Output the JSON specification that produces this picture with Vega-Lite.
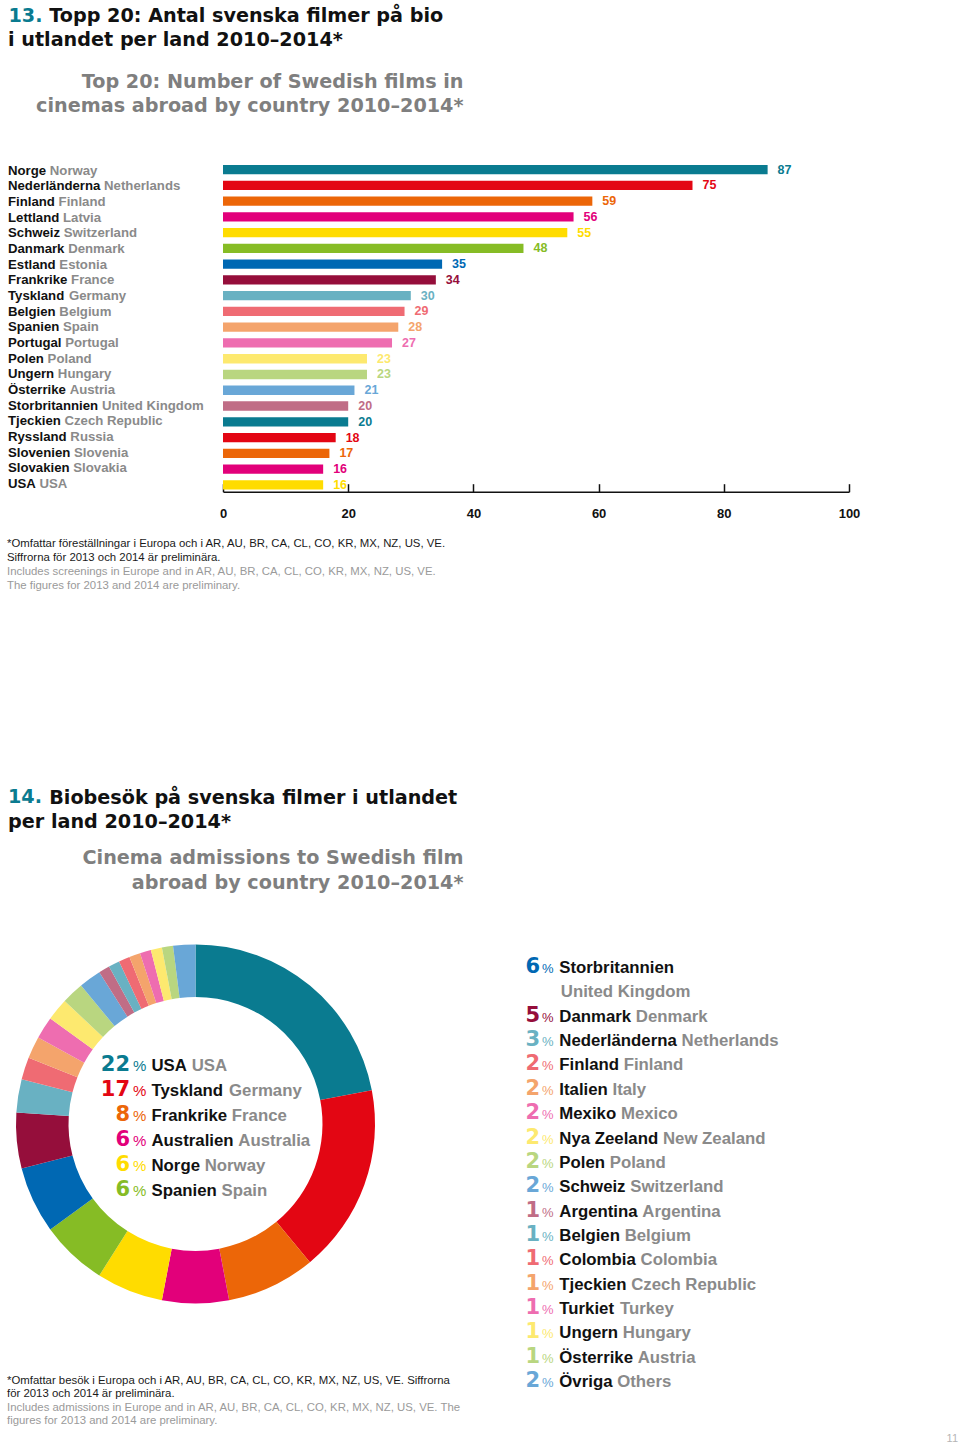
{
  "$schema": "https://vega.github.io/schema/vega-lite/v6.json",
  "usermeta": {"embedOptions": {"actions": false}},
  "background": "white",
  "padding": {"left": 7, "top": 5.7, "right": 2, "bottom": 0},
  "config": {"view": {"stroke": null}, "font": "Liberation Sans", "axis": {"grid": false}},
  "resolve": {"scale": {"color": "independent"}},
  "spacing": 195.7,
  "title": {
    "text": "11", "orient": "bottom", "anchor": "end", "frame": "bounds", "baseline": "top", "offset": 6.5,
    "font": "Liberation Sans", "fontSize": 11, "fontWeight": "normal", "color": "#b5b5b5"
  },
  "datasets": {
    "films": [
      {"rank": 1, "sv": "Norge", "en": "Norway", "films": 87},
      {"rank": 2, "sv": "Nederländerna", "en": "Netherlands", "films": 75},
      {"rank": 3, "sv": "Finland", "en": "Finland", "films": 59},
      {"rank": 4, "sv": "Lettland", "en": "Latvia", "films": 56},
      {"rank": 5, "sv": "Schweiz", "en": "Switzerland", "films": 55},
      {"rank": 6, "sv": "Danmark", "en": "Denmark", "films": 48},
      {"rank": 7, "sv": "Estland", "en": "Estonia", "films": 35},
      {"rank": 8, "sv": "Frankrike", "en": "France", "films": 34},
      {"rank": 9, "sv": "Tyskland", "en": "Germany", "films": 30},
      {"rank": 10, "sv": "Belgien", "en": "Belgium", "films": 29},
      {"rank": 11, "sv": "Spanien", "en": "Spain", "films": 28},
      {"rank": 12, "sv": "Portugal", "en": "Portugal", "films": 27},
      {"rank": 13, "sv": "Polen", "en": "Poland", "films": 23},
      {"rank": 14, "sv": "Ungern", "en": "Hungary", "films": 23},
      {"rank": 15, "sv": "Österrike", "en": "Austria", "films": 21},
      {"rank": 16, "sv": "Storbritannien", "en": "United Kingdom", "films": 20},
      {"rank": 17, "sv": "Tjeckien", "en": "Czech Republic", "films": 20},
      {"rank": 18, "sv": "Ryssland", "en": "Russia", "films": 18},
      {"rank": 19, "sv": "Slovenien", "en": "Slovenia", "films": 17},
      {"rank": 20, "sv": "Slovakien", "en": "Slovakia", "films": 16},
      {"rank": 21, "sv": "USA", "en": "USA", "films": 16}
    ],
    "admissions": [
      {"rank": 1, "sv": "USA", "en": "USA", "pct": 22},
      {"rank": 2, "sv": "Tyskland", "en": "Germany", "pct": 17},
      {"rank": 3, "sv": "Frankrike", "en": "France", "pct": 8},
      {"rank": 4, "sv": "Australien", "en": "Australia", "pct": 6},
      {"rank": 5, "sv": "Norge", "en": "Norway", "pct": 6},
      {"rank": 6, "sv": "Spanien", "en": "Spain", "pct": 6},
      {"rank": 7, "sv": "Storbritannien", "en": "United Kingdom", "pct": 6},
      {"rank": 8, "sv": "Danmark", "en": "Denmark", "pct": 5},
      {"rank": 9, "sv": "Nederländerna", "en": "Netherlands", "pct": 3},
      {"rank": 10, "sv": "Finland", "en": "Finland", "pct": 2},
      {"rank": 11, "sv": "Italien", "en": "Italy", "pct": 2},
      {"rank": 12, "sv": "Mexiko", "en": "Mexico", "pct": 2},
      {"rank": 13, "sv": "Nya Zeeland", "en": "New Zealand", "pct": 2},
      {"rank": 14, "sv": "Polen", "en": "Poland", "pct": 2},
      {"rank": 15, "sv": "Schweiz", "en": "Switzerland", "pct": 2},
      {"rank": 16, "sv": "Argentina", "en": "Argentina", "pct": 1},
      {"rank": 17, "sv": "Belgien", "en": "Belgium", "pct": 1},
      {"rank": 18, "sv": "Colombia", "en": "Colombia", "pct": 1},
      {"rank": 19, "sv": "Tjeckien", "en": "Czech Republic", "pct": 1},
      {"rank": 20, "sv": "Turkiet", "en": "Turkey", "pct": 1},
      {"rank": 21, "sv": "Ungern", "en": "Hungary", "pct": 1},
      {"rank": 22, "sv": "Österrike", "en": "Austria", "pct": 1},
      {"rank": 23, "sv": "Övriga", "en": "Others", "pct": 2}
    ]
  },
  "vconcat": [
    {
      "bounds": "flush",
      "spacing": 0,
      "hconcat": [
        {
          "width": 215,
          "height": 329,
          "data": {"name": "films"},
          "title": {
            "text": "i utlandet per land 2010–2014*",
            "orient": "top", "anchor": "start", "frame": "group", "align": "left", "baseline": "top", "offset": -44.2,
            "font": "DejaVu Sans", "fontSize": 19.2, "fontWeight": "bold", "color": "#111111"
          },
          "encoding": {
            "y": {
              "field": "en", "type": "nominal", "sort": null,
              "scale": {"paddingInner": 0.41, "paddingOuter": 0.14},
              "axis": {
                "title": "Topp 20: Antal svenska filmer på bio",
                "labels": false, "ticks": false, "domain": false,
                "titleAngle": 0, "titleX": 40.7, "titleY": -156.3, "titleAlign": "left", "titleBaseline": "top",
                "titleFont": "DejaVu Sans", "titleFontSize": 19.2, "titleFontWeight": "bold", "titleColor": "#111111"
              }
            }
          },
          "layer": [
            {
              "mark": {"type": "text", "align": "left", "baseline": "middle", "font": "Liberation Sans", "fontSize": 13.2, "fontWeight": "bold", "color": "#111111"},
              "encoding": {"x": {"value": 0}, "text": {"field": "sv", "type": "nominal"}}
            },
            {
              "mark": {
                "type": "text", "align": "left", "baseline": "middle", "font": "Liberation Sans", "fontSize": 13.2, "fontWeight": "bold", "color": "#8a8a8a",
                "dx": {"expr": "(278*(length(datum.sv)-length(replace(datum.sv,regexp('[ijlI ,.]','g'),'')))+333*(length(datum.sv)-length(replace(datum.sv,regexp('[ft]','g'),'')))+389*(length(datum.sv)-length(replace(datum.sv,regexp('r','g'),'')))+500*(length(datum.sv)-length(replace(datum.sv,regexp('z','g'),'')))+556*(length(datum.sv)-length(replace(datum.sv,regexp('[aceksvxyäåJ]','g'),'')))+611*(length(datum.sv)-length(replace(datum.sv,regexp('[bdghnopquöFLTZ]','g'),'')))+667*(length(datum.sv)-length(replace(datum.sv,regexp('[EPSVXY]','g'),'')))+722*(length(datum.sv)-length(replace(datum.sv,regexp('[ABCDHKNRU]','g'),'')))+778*(length(datum.sv)-length(replace(datum.sv,regexp('[GOQwÖ]','g'),'')))+833*(length(datum.sv)-length(replace(datum.sv,regexp('M','g'),'')))+889*(length(datum.sv)-length(replace(datum.sv,regexp('m','g'),'')))+944*(length(datum.sv)-length(replace(datum.sv,regexp('W','g'),'')))+278)*0.0132"}
              },
              "encoding": {"x": {"value": 0}, "text": {"field": "en", "type": "nominal"}}
            }
          ]
        },
        {
          "width": 626,
          "height": 329,
          "data": {"name": "films"},
          "title": {
            "text": ["*Omfattar föreställningar i Europa och i AR, AU, BR, CA, CL, CO, KR, MX, NZ, US, VE.", "Siffrorna för 2013 och 2014 är preliminära."],
            "subtitle": ["Includes screenings in Europe and in AR, AU, BR, CA, CL, CO, KR, MX, NZ, US, VE.", "The figures for 2013 and 2014 are preliminary."],
            "orient": "bottom", "anchor": "start", "frame": "group", "align": "left", "baseline": "top",
            "dx": -216, "offset": 17,
            "font": "Liberation Sans", "fontSize": 11.4, "fontWeight": "normal", "color": "#1a1a1a", "lineHeight": 14,
            "subtitleFont": "Liberation Sans", "subtitleFontSize": 11.4, "subtitleFontWeight": "normal", "subtitleColor": "#9a9a9a", "subtitleLineHeight": 14, "subtitlePadding": 3
          },
          "encoding": {
            "y": {
              "field": "en", "type": "nominal", "sort": null,
              "scale": {"paddingInner": 0.41, "paddingOuter": 0.14},
              "axis": {
                "title": "13.",
                "labels": false, "ticks": false, "domain": false,
                "titleAngle": 0, "titleX": -215, "titleY": -156.3, "titleAlign": "left", "titleBaseline": "top",
                "titleFont": "DejaVu Sans", "titleFontSize": 19.2, "titleFontWeight": "bold", "titleColor": "#0a7b90"
              }
            }
          },
          "layer": [
            {
              "mark": {"type": "bar"},
              "encoding": {
                "x": {
                  "field": "films", "type": "quantitative",
                  "scale": {"domain": [0, 100]},
                  "axis": {
                    "values": [0, 20, 40, 60, 80, 100],
                    "tickSize": -8, "tickColor": "#111111", "tickWidth": 1.5,
                    "domainColor": "#111111", "domainWidth": 1.6,
                    "labelFont": "Liberation Sans", "labelFontSize": 13, "labelFontWeight": "bold", "labelColor": "#111111",
                    "labelPadding": 24, "labelFlush": false,
                    "title": ["Top 20: Number of Swedish films in", "cinemas abroad by country 2010–2014*"],
                    "titleX": 240, "titleY": -419.5, "titleAlign": "right", "titleBaseline": "top", "titleAngle": 0,
                    "titleFont": "DejaVu Sans", "titleFontSize": 19.2, "titleFontWeight": "bold", "titleColor": "#7f7f7f", "titleLineHeight": 24.5
                  }
                },
                "color": {
                  "field": "rank", "type": "ordinal", "legend": null,
                  "scale": {"range": ["#0a7b90", "#e30613", "#ec6608", "#e2007a", "#ffdc00", "#86bc25", "#0068b3", "#950e3b", "#69b1c2", "#ef6b73", "#f4a46c", "#ee6db0", "#fde96f", "#b9d680", "#69a7d7", "#c06d86"]}
                }
              }
            },
            {
              "mark": {"type": "text", "align": "left", "baseline": "middle", "dx": 10, "font": "Liberation Sans", "fontSize": 12.5, "fontWeight": "bold"},
              "encoding": {
                "x": {"field": "films", "type": "quantitative"},
                "text": {"field": "films", "type": "quantitative"},
                "color": {
                  "field": "rank", "type": "ordinal", "legend": null,
                  "scale": {"range": ["#0a7b90", "#e30613", "#ec6608", "#e2007a", "#ffdc00", "#86bc25", "#0068b3", "#950e3b", "#69b1c2", "#ef6b73", "#f4a46c", "#ee6db0", "#fde96f", "#b9d680", "#69a7d7", "#c06d86"]}
                }
              }
            }
          ]
        }
      ]
    },
    {
      "bounds": "flush",
      "spacing": 0,
      "title": {
        "text": "per land 2010–2014*",
        "orient": "top", "anchor": "start", "frame": "bounds", "align": "left", "baseline": "top", "offset": -44.2, "dx": 1,
        "font": "DejaVu Sans", "fontSize": 19.2, "fontWeight": "bold", "color": "#111111"
      },
      "hconcat": [
        {
          "width": 375,
          "height": 375,
          "data": {"name": "admissions"},
          "title": {
            "text": ["*Omfattar besök i Europa och i AR, AU, BR, CA, CL, CO, KR, MX, NZ, US, VE. Siffrorna", "för 2013 och 2014 är preliminära."],
            "subtitle": ["Includes admissions in Europe and in AR, AU, BR, CA, CL, CO, KR, MX, NZ, US, VE. The", "figures for 2013 and 2014 are preliminary."],
            "orient": "bottom", "anchor": "start", "frame": "group", "align": "left", "baseline": "top",
            "dx": -1, "offset": 63.3,
            "font": "Liberation Sans", "fontSize": 11.4, "fontWeight": "normal", "color": "#1a1a1a", "lineHeight": 13.7,
            "subtitleFont": "Liberation Sans", "subtitleFontSize": 11.4, "subtitleFontWeight": "normal", "subtitleColor": "#9a9a9a", "subtitleLineHeight": 13.7, "subtitlePadding": 2
          },
          "layer": [
            {
              "mark": {"type": "arc", "innerRadius": 127, "outerRadius": 179.5},
              "encoding": {
                "theta": {"field": "pct", "type": "quantitative", "stack": true},
                "order": {"field": "rank", "type": "quantitative"},
                "color": {
                  "field": "rank", "type": "ordinal", "legend": null,
                  "scale": {"domain": [1,2,3,4,5,6,7,8,9,10,11,12,13,14,15,16,17,18,19,20,21,22,23], "range": ["#0a7b90", "#e30613", "#ec6608", "#e2007a", "#ffdc00", "#86bc25", "#0068b3", "#950e3b", "#69b1c2", "#ef6b73", "#f4a46c", "#ee6db0", "#fde96f", "#b9d680", "#69a7d7", "#c06d86", "#69b1c2", "#ef6b73", "#f4a46c", "#ee6db0", "#fde96f", "#b9d680", "#69a7d7"]}
                }
              }
            },
            {
              "transform": [{"filter": "datum.rank <= 6"}],
              "encoding": {
                "y": {
                  "field": "rank", "type": "quantitative",
                  "scale": {"domain": [-4.43, 10.655], "reverse": true, "nice": false, "zero": false},
                  "axis": {
                    "title": "Biobesök på svenska filmer i utlandet",
                    "labels": false, "ticks": false, "domain": false, "grid": false,
                    "titleAngle": 0, "titleX": 40.7, "titleY": -148.3, "titleAlign": "left", "titleBaseline": "top",
                    "titleFont": "DejaVu Sans", "titleFontSize": 19.2, "titleFontWeight": "bold", "titleColor": "#111111"
                  }
                }
              },
              "layer": [
                {
                  "mark": {"type": "text", "align": "right", "baseline": "alphabetic", "font": "DejaVu Sans", "fontSize": 21, "fontWeight": "bold"},
                  "encoding": {
                    "x": {"value": 122},
                    "text": {"field": "pct", "type": "quantitative"},
                    "color": {
                      "field": "rank", "type": "ordinal", "legend": null,
                      "scale": {"domain": [1,2,3,4,5,6,7,8,9,10,11,12,13,14,15,16,17,18,19,20,21,22,23], "range": ["#0a7b90", "#e30613", "#ec6608", "#e2007a", "#ffdc00", "#86bc25", "#0068b3", "#950e3b", "#69b1c2", "#ef6b73", "#f4a46c", "#ee6db0", "#fde96f", "#b9d680", "#69a7d7", "#c06d86", "#69b1c2", "#ef6b73", "#f4a46c", "#ee6db0", "#fde96f", "#b9d680", "#69a7d7"]}
                    }
                  }
                },
                {
                  "mark": {"type": "text", "align": "left", "baseline": "alphabetic", "font": "Liberation Sans", "fontSize": 15, "text": "%"},
                  "encoding": {
                    "x": {"value": 125},
                    "color": {
                      "field": "rank", "type": "ordinal", "legend": null,
                      "scale": {"domain": [1,2,3,4,5,6,7,8,9,10,11,12,13,14,15,16,17,18,19,20,21,22,23], "range": ["#0a7b90", "#e30613", "#ec6608", "#e2007a", "#ffdc00", "#86bc25", "#0068b3", "#950e3b", "#69b1c2", "#ef6b73", "#f4a46c", "#ee6db0", "#fde96f", "#b9d680", "#69a7d7", "#c06d86", "#69b1c2", "#ef6b73", "#f4a46c", "#ee6db0", "#fde96f", "#b9d680", "#69a7d7"]}
                    }
                  }
                },
                {
                  "mark": {"type": "text", "align": "left", "baseline": "alphabetic", "font": "Liberation Sans", "fontSize": 16.8, "fontWeight": "bold", "color": "#111111"},
                  "encoding": {"x": {"value": 143.5}, "text": {"field": "sv", "type": "nominal"}}
                },
                {
                  "mark": {
                    "type": "text", "align": "left", "baseline": "alphabetic", "font": "Liberation Sans", "fontSize": 16.8, "fontWeight": "bold", "color": "#8a8a8a",
                    "dx": {"expr": "(278*(length(datum.sv)-length(replace(datum.sv,regexp('[ijlI ,.]','g'),'')))+333*(length(datum.sv)-length(replace(datum.sv,regexp('[ft]','g'),'')))+389*(length(datum.sv)-length(replace(datum.sv,regexp('r','g'),'')))+500*(length(datum.sv)-length(replace(datum.sv,regexp('z','g'),'')))+556*(length(datum.sv)-length(replace(datum.sv,regexp('[aceksvxyäåJ]','g'),'')))+611*(length(datum.sv)-length(replace(datum.sv,regexp('[bdghnopquöFLTZ]','g'),'')))+667*(length(datum.sv)-length(replace(datum.sv,regexp('[EPSVXY]','g'),'')))+722*(length(datum.sv)-length(replace(datum.sv,regexp('[ABCDHKNRU]','g'),'')))+778*(length(datum.sv)-length(replace(datum.sv,regexp('[GOQwÖ]','g'),'')))+833*(length(datum.sv)-length(replace(datum.sv,regexp('M','g'),'')))+889*(length(datum.sv)-length(replace(datum.sv,regexp('m','g'),'')))+944*(length(datum.sv)-length(replace(datum.sv,regexp('W','g'),'')))+278)*0.0168"}
                  },
                  "encoding": {"x": {"value": 143.5}, "text": {"field": "en", "type": "nominal"}}
                }
              ]
            }
          ]
        },
        {
          "width": 575,
          "height": 460,
          "data": {"name": "admissions"},
          "transform": [{"filter": "datum.rank >= 7"}],
          "title": {
            "text": "14.", "orient": "top", "anchor": "start", "frame": "group", "align": "left", "baseline": "top",
            "dx": -375, "offset": 40.8,
            "font": "DejaVu Sans", "fontSize": 19.2, "fontWeight": "bold", "color": "#0a7b90"
          },
          "encoding": {
            "y": {
              "field": "rank", "type": "ordinal",
              "scale": {"type": "point", "domain": [7, 7.5, 8, 9, 10, 11, 12, 13, 14, 15, 16, 17, 18, 19, 20, 21, 22, 23], "padding": 0.9456, "align": 0.797},
              "axis": {
                "title": ["Cinema admissions to Swedish film", "abroad by country 2010–2014*"],
                "labels": false, "ticks": false, "domain": false,
                "titleAngle": 0, "titleX": 80, "titleY": -88.3, "titleAlign": "right", "titleBaseline": "top",
                "titleFont": "DejaVu Sans", "titleFontSize": 19.2, "titleFontWeight": "bold", "titleColor": "#7f7f7f", "titleLineHeight": 25
              }
            }
          },
          "layer": [
            {
              "mark": {"type": "text", "align": "right", "baseline": "alphabetic", "font": "DejaVu Sans", "fontSize": 21, "fontWeight": "bold"},
              "encoding": {
                "x": {"value": 157},
                "text": {"field": "pct", "type": "quantitative"},
                "color": {
                  "field": "rank", "type": "ordinal", "legend": null,
                  "scale": {"domain": [1,2,3,4,5,6,7,8,9,10,11,12,13,14,15,16,17,18,19,20,21,22,23], "range": ["#0a7b90", "#e30613", "#ec6608", "#e2007a", "#ffdc00", "#86bc25", "#0068b3", "#950e3b", "#69b1c2", "#ef6b73", "#f4a46c", "#ee6db0", "#fde96f", "#b9d680", "#69a7d7", "#c06d86", "#69b1c2", "#ef6b73", "#f4a46c", "#ee6db0", "#fde96f", "#b9d680", "#69a7d7"]}
                }
              }
            },
            {
              "mark": {"type": "text", "align": "left", "baseline": "alphabetic", "font": "Liberation Sans", "fontSize": 13, "text": "%"},
              "encoding": {
                "x": {"value": 159},
                "color": {
                  "field": "rank", "type": "ordinal", "legend": null,
                  "scale": {"domain": [1,2,3,4,5,6,7,8,9,10,11,12,13,14,15,16,17,18,19,20,21,22,23], "range": ["#0a7b90", "#e30613", "#ec6608", "#e2007a", "#ffdc00", "#86bc25", "#0068b3", "#950e3b", "#69b1c2", "#ef6b73", "#f4a46c", "#ee6db0", "#fde96f", "#b9d680", "#69a7d7", "#c06d86", "#69b1c2", "#ef6b73", "#f4a46c", "#ee6db0", "#fde96f", "#b9d680", "#69a7d7"]}
                }
              }
            },
            {
              "mark": {"type": "text", "align": "left", "baseline": "alphabetic", "font": "Liberation Sans", "fontSize": 16.8, "fontWeight": "bold", "color": "#111111"},
              "encoding": {"x": {"value": 176.3}, "text": {"field": "sv", "type": "nominal"}}
            },
            {
              "mark": {
                "type": "text", "align": "left", "baseline": "alphabetic", "font": "Liberation Sans", "fontSize": 16.8, "fontWeight": "bold", "color": "#8a8a8a",
                "dy": {"expr": "datum.rank == 7 ? 24.35 : 0"},
                "dx": {"expr": "datum.rank == 7 ? 1.5 : (278*(length(datum.sv)-length(replace(datum.sv,regexp('[ijlI ,.]','g'),'')))+333*(length(datum.sv)-length(replace(datum.sv,regexp('[ft]','g'),'')))+389*(length(datum.sv)-length(replace(datum.sv,regexp('r','g'),'')))+500*(length(datum.sv)-length(replace(datum.sv,regexp('z','g'),'')))+556*(length(datum.sv)-length(replace(datum.sv,regexp('[aceksvxyäåJ]','g'),'')))+611*(length(datum.sv)-length(replace(datum.sv,regexp('[bdghnopquöFLTZ]','g'),'')))+667*(length(datum.sv)-length(replace(datum.sv,regexp('[EPSVXY]','g'),'')))+722*(length(datum.sv)-length(replace(datum.sv,regexp('[ABCDHKNRU]','g'),'')))+778*(length(datum.sv)-length(replace(datum.sv,regexp('[GOQwÖ]','g'),'')))+833*(length(datum.sv)-length(replace(datum.sv,regexp('M','g'),'')))+889*(length(datum.sv)-length(replace(datum.sv,regexp('m','g'),'')))+944*(length(datum.sv)-length(replace(datum.sv,regexp('W','g'),'')))+278)*0.0168"}
              },
              "encoding": {"x": {"value": 176.3}, "text": {"field": "en", "type": "nominal"}}
            }
          ]
        }
      ]
    }
  ]
}
